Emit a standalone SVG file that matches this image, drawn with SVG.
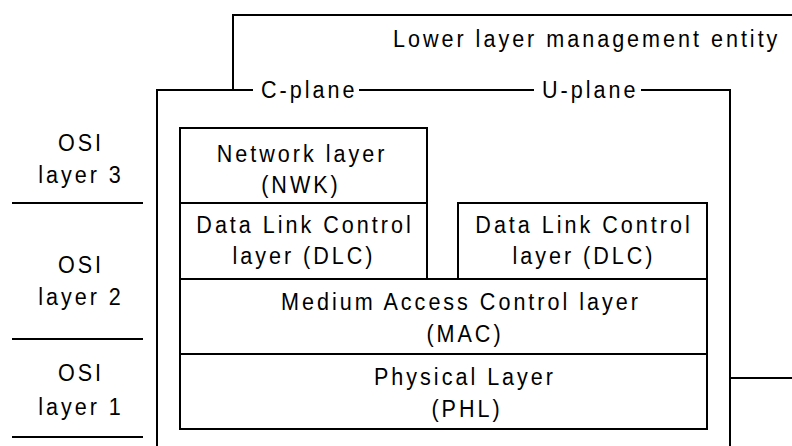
<svg xmlns="http://www.w3.org/2000/svg" width="792" height="446" viewBox="0 0 792 446">
<style>
text{font-family:"Liberation Sans",Arial,sans-serif;font-size:24.5px;letter-spacing:3.4px;fill:#000}
.c{text-anchor:middle}
.box{fill:#fff;stroke:#000;stroke-width:2}
.ln{fill:none;stroke:#000;stroke-width:2}
</style>
<rect width="792" height="446" fill="#fff"/>
<g id="connectors">
<path class="ln" d="M233,90 V15 H792"/>
<path class="ln" d="M157,446 V90 H253 M359,90 H534 M641,90 H730 V446 M730,378 H792"/>
<path class="ln" d="M12,203 H143 M12,339 H143 M12,437 H143"/>
</g>
<g id="llme"><text transform="translate(393,47) scale(0.88,1)">Lower layer management entity</text></g>
<g id="c-plane"><text transform="translate(261,98) scale(0.88,1)">C-plane</text></g>
<g id="u-plane"><text transform="translate(542,98) scale(0.88,1)">U-plane</text></g>
<g id="osi3"><text class="c" transform="translate(81,151) scale(0.88,1)">OSI</text><text class="c" transform="translate(81,183) scale(0.88,1)">layer 3</text></g>
<g id="osi2"><text class="c" transform="translate(81,273) scale(0.88,1)">OSI</text><text class="c" transform="translate(81,305) scale(0.88,1)">layer 2</text></g>
<g id="osi1"><text class="c" transform="translate(81,381) scale(0.88,1)">OSI</text><text class="c" transform="translate(81,415) scale(0.88,1)">layer 1</text></g>
<g id="nwk"><rect class="box" x="180" y="128" width="247" height="75"/><text class="c" transform="translate(302,162) scale(0.88,1)">Network layer</text><text class="c" transform="translate(301,193) scale(0.88,1)">(NWK)</text></g>
<g id="dlc-c"><rect class="box" x="180" y="203" width="247" height="76"/><text class="c" transform="translate(305,233) scale(0.88,1)">Data Link Control</text><text class="c" transform="translate(304,264) scale(0.88,1)">layer (DLC)</text></g>
<g id="dlc-u"><rect class="box" x="458" y="203" width="249" height="76"/><text class="c" transform="translate(584,233) scale(0.88,1)">Data Link Control</text><text class="c" transform="translate(584,264) scale(0.88,1)">layer (DLC)</text></g>
<g id="mac"><rect class="box" x="180" y="279" width="527" height="75"/><text class="c" transform="translate(461,310) scale(0.88,1)">Medium Access Control layer</text><text class="c" transform="translate(465,342) scale(0.88,1)">(MAC)</text></g>
<g id="phl"><rect class="box" x="180" y="354" width="527" height="75"/><text class="c" transform="translate(465,385) scale(0.88,1)">Physical Layer</text><text class="c" transform="translate(467,417) scale(0.88,1)">(PHL)</text></g>
</svg>
